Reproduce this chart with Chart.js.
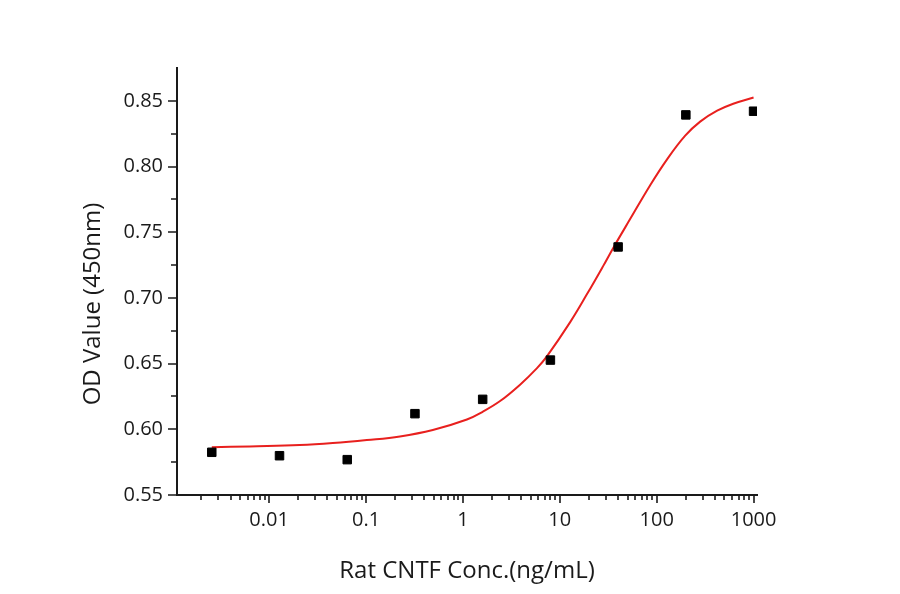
<!DOCTYPE html>
<html>
<head>
<meta charset="utf-8">
<script src="https://cdn.jsdelivr.net/npm/chart.js@4.4.1/dist/chart.umd.min.js"></script>
<style>
  body{margin:0;background:#fff;}
  #wrap{width:900px;height:594px;}
</style>
</head>
<body>
<div id="wrap"><canvas id="odChart" width="900" height="594"></canvas></div>
<script>
// measured points (ng/mL , OD450)
var concValues = [0.00256, 0.0128, 0.064, 0.32, 1.6, 8, 40, 200, 1000];
var odValues = [0.5825, 0.5799, 0.5769, 0.6119, 0.6228, 0.6527, 0.7388, 0.8393, 0.8421];

// fitted curve
var fitConc = [0.00256, 0.00632, 0.0207, 0.0454, 0.102, 0.224, 0.489, 1.10, 1.61, 2.42, 3.89, 5.82, 7.39, 12.8, 19.1, 28.0, 35.5, 53.2, 85.7, 128, 197, 281, 421, 617, 1000];
var fitOd = [0.5863, 0.5870, 0.5880, 0.5895, 0.5918, 0.5946, 0.5995, 0.6075, 0.6135, 0.6215, 0.6340, 0.6466, 0.6557, 0.6816, 0.7029, 0.7242, 0.7379, 0.7600, 0.7858, 0.8055, 0.8235, 0.8342, 0.8425, 0.8478, 0.8525];

// axis ticks
var xTickValues = [0.01, 0.1, 1, 10, 100, 1000];
var xTickLabels = ["0.01", "0.1", "1", "10", "100", "1000"];
var yTickValues = [0.55, 0.60, 0.65, 0.70, 0.75, 0.80, 0.85];
var yMinorValues = [0.575, 0.625, 0.675, 0.725, 0.775, 0.825];

var xTitle = "Rat CNTF Conc.(ng/mL)";
var yTitle = "OD Value (450nm)";

window.addEventListener("load", function(){
    var fontName = "'Open Sans', sans-serif";

    function makePoints(xs, ys){
        var out = [];
        for(var i=0; i<xs.length; i++){
            out.push({x: xs[i], y: ys[i]});
        }
        return out;
    }

    //minor ticks on the log axis: 2..9 of every decade
    function xMinorValues(min, max){
        var out = [];
        for(var d=-3; d<=3; d++){
            for(var k=2; k<=9; k++){
                var v = k * Math.pow(10, d);
                if(v > min && v < max) out.push(v);
            }
        }
        return out;
    }

    //tick marks + y title drawn by hand
    var axisDecor = {
        id: "axisDecor",
        afterDraw: function(chart){
            var ctx = chart.ctx;
            var xs = chart.scales.x;
            var ys = chart.scales.y;
            var area = chart.chartArea;
            ctx.save();
            ctx.strokeStyle = "#1a1a1a";
            ctx.lineWidth = 1.6;
            ctx.beginPath();
            xTickValues.forEach(function(v){
                var px = Math.round(xs.getPixelForValue(v));
                ctx.moveTo(px, area.bottom);
                ctx.lineTo(px, area.bottom + 8);
            });
            xMinorValues(xs.min, xs.max).forEach(function(v){
                var px = Math.round(xs.getPixelForValue(v));
                ctx.moveTo(px, area.bottom);
                ctx.lineTo(px, area.bottom + 5);
            });
            yTickValues.forEach(function(v){
                var py = Math.round(ys.getPixelForValue(v));
                ctx.moveTo(area.left, py);
                ctx.lineTo(area.left - 9, py);
            });
            yMinorValues.forEach(function(v){
                var py = Math.round(ys.getPixelForValue(v));
                ctx.moveTo(area.left, py);
                ctx.lineTo(area.left - 6, py);
            });
            ctx.stroke();

            ctx.translate(93, 304);
            ctx.rotate(-Math.PI / 2);
            ctx.fillStyle = "#1a1a1a";
            ctx.font = "24px " + fontName;
            ctx.textAlign = "center";
            ctx.textBaseline = "middle";
            ctx.fillText(yTitle, 0, 0);
            ctx.restore();
        }
    };

    var ctx = document.getElementById("odChart").getContext("2d");
    new Chart(ctx, {
        type: "scatter",
        data: {
            datasets: [{
                label: "OD",
                data: makePoints(concValues, odValues),
                pointStyle: "rect",
                pointRadius: 6,
                pointBorderWidth: 1,
                backgroundColor: "#000",
                borderColor: "#000",
                showLine: false
            },{
                label: "fit",
                data: makePoints(fitConc, fitOd),
                showLine: true,
                pointRadius: 0,
                borderColor: "#e8201e",
                borderWidth: 2,
                tension: 0.4,
                fill: false
            }]
        },
        options: {
            responsive: false,
            animation: false,
            devicePixelRatio: 1,
            layout: {padding: {left: 0, top: 68, right: 143, bottom: 0}},
            plugins: {legend: {display: false}, tooltip: {enabled: false}},
            scales: {
                x: {
                    type: "logarithmic",
                    min: 0.00112,
                    max: 1085,
                    afterBuildTicks: function(scale){
                        scale.ticks = xTickValues.map(function(v){ return {value: v}; });
                    },
                    afterFit: function(scale){ scale.height = 99; },
                    grid: {display: true, drawOnChartArea: false, drawTicks: false},
                    border: {display: true, color: "#1a1a1a", width: 2},
                    ticks: {
                        color: "#1a1a1a",
                        padding: 13,
                        maxRotation: 0,
                        autoSkip: false,
                        font: {family: fontName, size: 20},
                        callback: function(value){
                            var i = xTickValues.indexOf(value);
                            return i >= 0 ? xTickLabels[i] : "";
                        }
                    },
                    title: {
                        display: true,
                        text: xTitle,
                        color: "#1a1a1a",
                        font: {family: fontName, size: 24},
                        padding: {top: 0, bottom: 8}
                    }
                },
                y: {
                    type: "linear",
                    min: 0.55,
                    max: 0.875,
                    afterBuildTicks: function(scale){
                        scale.ticks = yTickValues.map(function(v){ return {value: v}; });
                    },
                    afterFit: function(scale){ scale.width = 177; },
                    grid: {display: true, drawOnChartArea: false, drawTicks: false},
                    border: {display: true, color: "#1a1a1a", width: 2},
                    ticks: {
                        color: "#1a1a1a",
                        padding: 14,
                        font: {family: fontName, size: 20},
                        callback: function(value){ return value.toFixed(2); }
                    }
                }
            }
        },
        plugins: [axisDecor]
    });
});
</script>
</body>
</html>
